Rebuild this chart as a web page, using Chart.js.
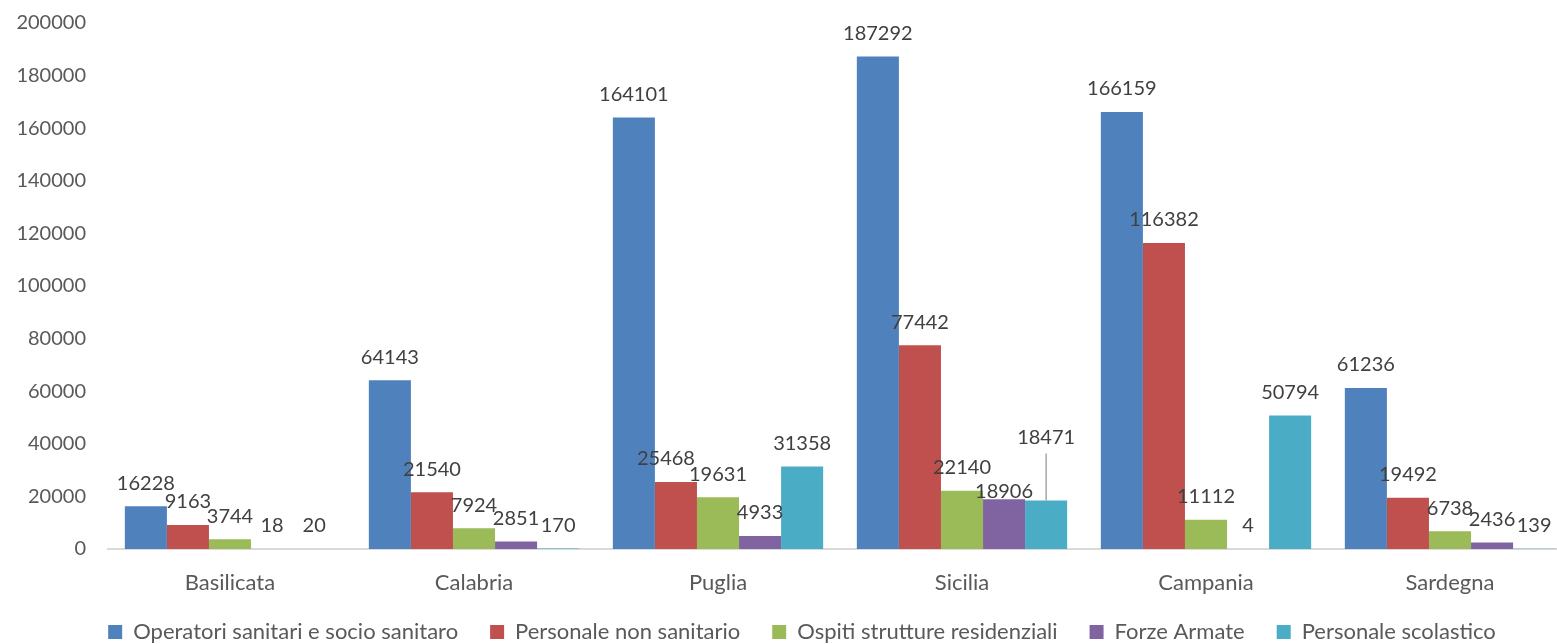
<!DOCTYPE html>
<html lang="it">
<head>
<meta charset="utf-8">
<title>Vaccinazioni per categoria e regione</title>
<script src="https://cdn.jsdelivr.net/npm/chart.js@4.4.1/dist/chart.umd.min.js"></script>
<style>
  html, body { margin: 0; padding: 0; background: #fff; overflow: hidden; }
  .chart-wrap { position: relative; width: 1572px; height: 655px; margin-top: -11px; }
</style>
</head>
<body>
<div class="chart-wrap"><canvas id="myChart"></canvas></div>
<script>
const regioni = ['Basilicata', 'Calabria', 'Puglia', 'Sicilia', 'Campania', 'Sardegna'];
const categorie = [
  'Operatori sanitari e socio sanitaro',
  'Personale non sanitario',
  'Ospiti strutture residenziali',
  'Forze Armate',
  'Personale scolastico'
];
const operatoriSanitari = [16228, 64143, 164101, 187292, 166159, 61236];
const personaleNonSanitario = [9163, 21540, 25468, 77442, 116382, 19492];
const ospitiStrutture = [3744, 7924, 19631, 22140, 11112, 6738];
const forzeArmate = [18, 2851, 4933, 18906, 4, 2436];
const personaleScolastico = [20, 170, 31358, 18471, 50794, 139];
const yTicks = [0, 20000, 40000, 60000, 80000, 100000, 120000, 140000, 160000, 180000, 200000];

const colori = ['#4F81BD', '#C0504D', '#9BBB59', '#8064A2', '#4BACC6'];
const valori = [operatoriSanitari, personaleNonSanitario, ospitiStrutture, forzeArmate, personaleScolastico];

// a few labels were moved by hand so they don't collide
const labelShift = {
  '3-3': { dy: 15 },
  '4-3': { dy: -40, leader: true },
  '1-2': { dx: -10 }
};

Chart.defaults.font.family = 'Lato, "Open Sans", sans-serif';
Chart.defaults.color = '#595959';

const valueLabels = {
  id: 'valueLabels',
  afterDatasetsDraw(chart) {
    const ctx = chart.ctx;
    ctx.save();
    ctx.font = '20px Lato, "Open Sans", sans-serif';
    ctx.fillStyle = '#404040';
    ctx.textAlign = 'center';
    ctx.textBaseline = 'middle';
    chart.data.datasets.forEach((ds, di) => {
      chart.getDatasetMeta(di).data.forEach((bar, i) => {
        const shift = labelShift[di + '-' + i] || {};
        const x = bar.x + (shift.dx || 0);
        const y = bar.y - 23 + (shift.dy || 0);
        if (shift.leader) {
          ctx.strokeStyle = '#a6a6a6';
          ctx.lineWidth = 1.5;
          ctx.beginPath();
          ctx.moveTo(x, y + 16);
          ctx.lineTo(x, bar.y);
          ctx.stroke();
        }
        ctx.fillText(String(ds.data[i]), x, y);
      });
    });
    ctx.restore();
  }
};

// move the legend a bit right of centre and pull it up closer to the axis
const legendOffset = {
  id: 'legendOffset',
  afterLayout(chart) {
    const lg = chart.legend;
    lg.left += 16;
    lg.right += 16;
    lg.top -= 12;
    lg.bottom -= 12;
  }
};

const ctx = document.getElementById('myChart');
new Chart(ctx, {
  type: 'bar',
  data: {
    labels: regioni,
    datasets: categorie.map((nome, i) => ({
      label: nome,
      data: valori[i],
      backgroundColor: colori[i],
      borderWidth: 0,
      barPercentage: 1,
      categoryPercentage: 0.862
    }))
  },
  options: {
    responsive: true,
    maintainAspectRatio: false,
    animation: false,
    layout: {
      padding: { left: 0, top: 0, right: 0, bottom: -21 }
    },
    scales: {
      x: {
        grid: { display: false, drawTicks: false },
        border: { color: '#d9d9d9', width: 2 },
        afterFit: scale => { scale.height = 52; },
        ticks: {
          color: '#595959',
          font: { size: 22, lineHeight: 1 },
          padding: 23
        }
      },
      y: {
        min: 0,
        max: yTicks[yTicks.length - 1],
        grid: { display: false, drawTicks: false },
        border: { display: false },
        afterBuildTicks: scale => { scale.ticks = yTicks.map(v => ({ value: v })); },
        afterFit: scale => { scale.width = 108; },
        ticks: {
          color: '#595959',
          font: { size: 20 },
          padding: 22,
          callback: v => String(v)
        }
      }
    },
    plugins: {
      legend: {
        position: 'bottom',
        labels: {
          boxWidth: 14,
          boxHeight: 14,
          padding: 32,
          color: '#595959',
          font: { size: 22 }
        }
      },
      tooltip: { enabled: false }
    }
  },
  plugins: [valueLabels, legendOffset]
});
</script>
</body>
</html>
